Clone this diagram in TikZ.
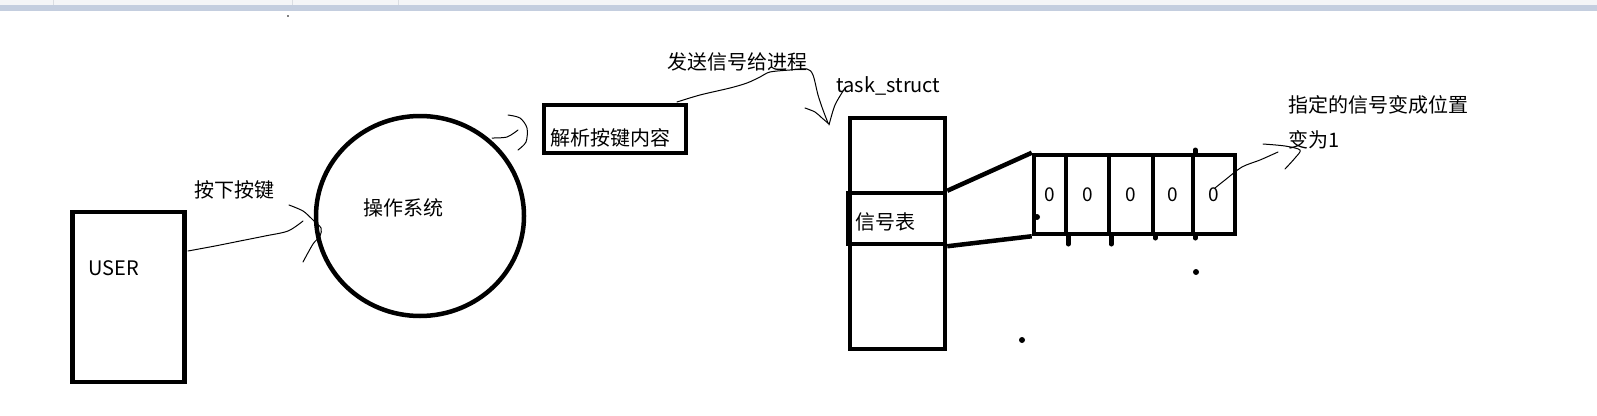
\documentclass[tikz,border=0pt]{standalone}
\usepackage{fontspec}
\setmainfont{Noto Sans CJK SC}
\usetikzlibrary{shapes.geometric}
\definecolor{barGray}{HTML}{F4F5F7}
\definecolor{barBlue}{HTML}{C4CEDF}
\definecolor{barSep}{HTML}{DADDE2}
\tikzset{
  thickbox/.style={draw, line width=4.5pt, inner sep=0pt},
  bitcell/.style={thickbox, minimum height=79pt, font=\fontsize{19}{22}\selectfont},
  pen/.style={line width=1pt, line join=round, line cap=round},
  lbl/.style={inner sep=0pt, font=\fontsize{20}{24}\selectfont},
  blob/.style={circle, fill, inner sep=0pt, minimum size=6pt},
  tail/.style={line width=4.5pt, line cap=round},
}
\begin{document}
\begin{tikzpicture}[x=1pt, y=-1pt]
  \useasboundingbox (0,0) rectangle (1597,415);
  \fill[white] (0,0) rectangle (1597,415);
  % window bar
  \fill[barGray] (0,0) rectangle (1597,5);
  \fill[barBlue] (0,5) rectangle (1597,11);
  \draw[barSep, line width=0.8pt] (53,0) -- (53,5) (292,0) -- (292,5) (398,0) -- (398,5);
  \fill (288,16) circle (0.8pt);

  % boxes
  \node[thickbox, minimum width=112pt, minimum height=170pt] (user) at (128.5,297) {};
  \node[lbl] (userlbl) at (114,268) {USER};
  \node[thickbox, ellipse, minimum width=208pt, minimum height=200pt] (os) at (420,216) {};
  \node[lbl] (oslbl) at (403,208) {操作系统};
  \node[thickbox, minimum width=142pt, minimum height=48pt] (parse) at (615,129) {};
  \node[lbl] (parselbl) at (610,138) {解析按键内容};
  \node[thickbox, minimum width=95pt, minimum height=231pt] (task) at (897.5,233.5) {};
  \node[thickbox, minimum width=97pt, minimum height=51pt] (sig) at (896.5,218.5) {};
  \node[lbl] (siglbl) at (885,222) {信号表};

  % labels
  \node[lbl] (presslbl) at (234,190) {按下按键};
  \node[lbl] (sendlbl) at (737.5,62) {发送信号给进程};
  \node[lbl] (tasklbl) at (888.5,86) {task\_struct};
  \node[lbl, anchor=west] (setlbl) at (1288,105) {指定的信号变成位置};
  \node[lbl, anchor=west] (onelbl) at (1288,140) {变为1};

  % signal bits
  \node[bitcell, minimum width=32pt] (b1) at (1050,194.5) {0};
  \node[bitcell, minimum width=43pt] (b2) at (1087.5,194.5) {0};
  \node[bitcell, minimum width=44pt] (b3) at (1131,194.5) {0};
  \node[bitcell, minimum width=40pt] (b4) at (1173,194.5) {0};
  \node[bitcell, minimum width=42pt] (b5) at (1214,194.5) {0};
  \draw[line width=4.5pt] (sig.north east) -- (b1.north west);
  \draw[line width=4.5pt] (sig.south east) -- (b1.south west);
  \draw[tail] (b1.south east) -- ++(0,8);
  \draw[tail] (b2.south east) -- ++(0,8);
  \draw[tail] (b3.south east) -- ++(0,2);
  \draw[tail] (b4.south east) -- ++(0,2);
  \draw[tail] (b4.north east) -- ++(0,-3);
  \node[blob] (dot1) at (1037,217) {};
  \node[blob] (dot2) at (1196,272) {};
  \node[blob] (dot3) at (1022,340) {};

  % pen strokes
  \draw[pen] (user.east |- 0,251) plot[smooth] coordinates {(188,251) (215,246) (240,241) (265,236) (288,231) (303,221)};
  \draw[pen] plot[smooth] coordinates {(289,205) (303,211) (313,220) (321,228) (320,236) (313,244) (303,262)};
  \draw[pen] plot[smooth] coordinates {(492,138) (507,137) (518,130)};
  \draw[pen] plot[smooth] coordinates {(508,115) (520,118) (527,128) (526,142) (518,150)};
  \draw[pen] plot[smooth] coordinates {(677,102) (700,95) (730,88) (747,83) (760,77) (770,72) (790,70) (807,69) (813,75) (818,95) (823,110) (828,123)};
  \draw[pen] plot[smooth] coordinates {(805,108) (815,112) (822,118) (829,124)};
  \draw[pen] plot[smooth] coordinates {(829,125) (835,105) (845,88)};
  \draw[pen] plot[smooth] coordinates {(1215,188) (1225,180) (1242,167) (1260,160) (1278,152)};
  \draw[pen] plot[smooth] coordinates {(1263,144) (1285,146) (1300,150) (1295,158) (1285,169)};
\end{tikzpicture}
\end{document}
